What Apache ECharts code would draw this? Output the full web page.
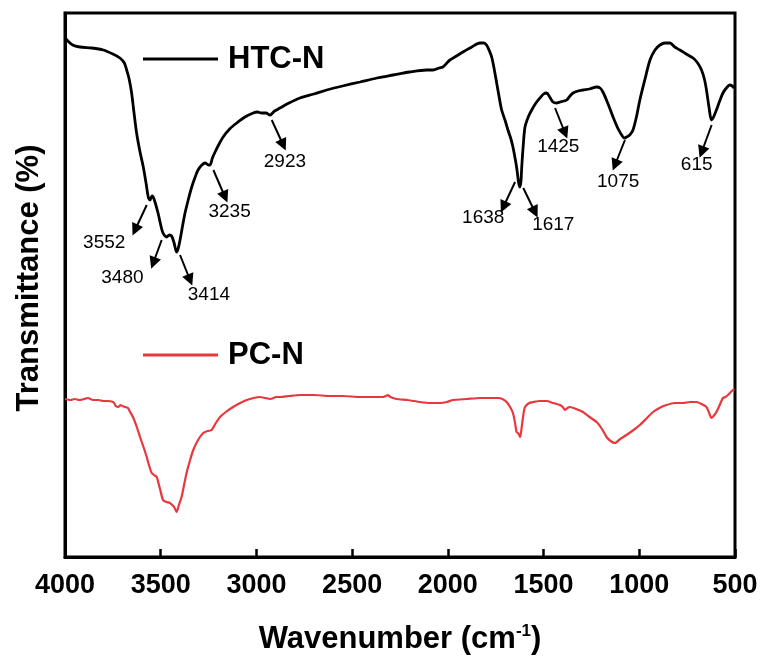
<!DOCTYPE html>
<html>
<head>
<meta charset="utf-8">
<script src="https://cdn.jsdelivr.net/npm/echarts@6/dist/echarts.min.js"></script>
<style>html,body{margin:0;padding:0;background:#fff}#chart{width:762px;height:659px}</style>
</head>
<body>
<div id="chart"></div>
<script>
// x ticks
var xTicks = [4000, 3500, 3000, 2500, 2000, 1500, 1000, 500];
// HTC-N spectrum [wavenumber, transmittance (a.u.)]
var htcN = [
[3995,518],[3960,512],[3922,510],[3860,509],[3800,507],[3750,503],[3713,499],[3690,494],[3678,487],[3665,478],[3652,464],
[3640,445],[3626,424],[3608,405],[3591,390],[3575,372],[3565,360],[3556,357],[3545,361],[3535,358],[3514,344],
[3500,332],[3488,324],[3469,320],[3455,322],[3443,321],[3430,314],[3417,305],[3408,309],[3399,317],[3385,332],[3373,344],
[3355,358],[3338,370],[3320,380],[3305,387],[3285,392],[3268,394],[3250,392],[3242,392],[3230,399],[3216,405],
[3195,413],[3174,420],[3140,428],[3103,434],[3060,440],[3017,444],[2995,445],[2973,444],[2950,444],[2929,442],
[2905,446],[2877,449],[2830,454],[2772,459],[2700,463],[2633,467],[2550,471],[2459,475],[2370,479],[2286,482],
[2200,485],[2111,487],[2077,487],[2045,489],[2026,490],[2005,494],[1989,497],[1955,501],[1921,505],[1875,510],
[1832,514],[1812,514],[1798,512],[1785,507],[1771,500],[1758,488],[1745,474],[1732,460],[1719,447],[1700,436],
[1686,427],[1672,419],[1660,410],[1650,400],[1641,390],[1633,378],[1628,372],[1623,370],[1618,376],[1614,390],[1606,412],
[1597,430],[1580,440],[1562,447],[1540,454],[1519,459],[1500,463],[1484,464],[1468,460],[1451,455],[1432,454],
[1414,455],[1395,456],[1379,457],[1362,461],[1346,464],[1320,466],[1294,467],[1260,468],[1223,470],[1205,469],
[1190,465],[1165,454],[1137,440],[1110,428],[1085,420],[1075,419],[1067,420],[1050,422],[1033,427],[1015,440],
[997,457],[970,478],[944,497],[918,507],[892,512],[865,514],[840,514],[815,510],[788,507],[755,503],[719,499],
[695,494],[675,487],[660,478],[649,467],[636,450],[623,437],[612,440],[597,447],[580,456],[563,464],[545,469],
[527,472],[515,471],[505,469]
];
// PC-N spectrum
var pcN = [
[4000,158],[3970,157],[3950,158],[3925,157],[3900,158],[3880,159],[3854,157],[3825,157],[3800,156],[3775,156],
[3749,155],[3740,153],[3735,151],[3722,150],[3710,152],[3700,151],[3685,150],[3671,149],[3660,145],[3645,140],
[3625,130],[3608,120],[3590,110],[3573,100],[3560,91],[3547,84],[3535,82],[3521,80],[3505,69],[3488,57],
[3470,55],[3452,54],[3440,52],[3430,50],[3417,45],[3405,52],[3391,60],[3378,72],[3365,84],[3348,96],
[3330,107],[3305,117],[3278,124],[3255,126],[3234,127],[3212,134],[3190,140],[3160,145],[3122,150],[3085,154],
[3051,157],[3015,159],[2981,160],[2955,159],[2929,158],[2910,159],[2900,160],[2877,160],[2830,161],[2772,162],
[2700,162],[2620,161],[2548,161],[2460,160],[2372,160],[2340,160],[2325,161],[2313,162],[2300,160],[2268,158],
[2210,157],[2146,155],[2090,154],[2041,154],[2005,155],[1973,157],[1900,158],[1832,159],[1780,159],[1738,159],
[1715,158],[1693,155],[1675,150],[1660,144],[1650,135],[1641,125],[1635,124],[1630,123],[1623,120],[1618,124],
[1614,130],[1605,143],[1597,150],[1575,154],[1553,155],[1520,156],[1484,156],[1450,154],[1414,152],[1400,150],
[1388,147],[1375,149],[1362,150],[1330,148],[1294,145],[1260,140],[1223,135],[1195,128],[1171,120],[1150,116],
[1127,114],[1100,118],[1067,122],[1030,127],[997,132],[960,139],[928,145],[895,149],[858,152],[815,154],
[771,154],[735,155],[701,155],[675,153],[649,150],[635,144],[623,139],[612,141],[597,145],[580,152],
[563,159],[550,160],[537,162],[522,165],[511,167],[503,168]
];
// peak annotations
var peakLabels = ['3552','3480','3414','3235','2923','1638','1617','1425','1075','615'];
var arrowFrom = [[3573,352],[3495,317],[3399,302],[3225,387],[2920,437],[1649,375],[1606,369],[1440,449],[1075,417],[622,432]];
var arrowTo   = [[3634,327],[3539,294],[3347,277],[3164,360],[2860,412],[1710,350],[1545,345],[1388,424],[1127,392],[674,405]];
var labelAt   = [[3795,314],[3700,279],[3248,262],[3140,345],[2851,395],[1815,339],[1449,332],[1423,410],[1110,375],[700,392]];

var FONT = '"Liberation Sans", Arial, sans-serif';
var chart = echarts.init(document.getElementById('chart'), null, {renderer: 'canvas'});

var arrowData = arrowFrom.map(function (p, i) { return {coords: [p, arrowTo[i]]}; });
var labelData = labelAt.map(function (p, i) { return {name: peakLabels[i], value: p}; });

chart.setOption({
  animation: false,
  backgroundColor: '#fff',
  grid: {left: 65, right: 27, top: 13, bottom: 102, containLabel: false, outerBoundsMode: 'none',
         show: true, borderColor: '#000', borderWidth: 3, backgroundColor: 'transparent'},
  legend: [
    {data: ['HTC-N'], left: 138, top: 36, icon: 'rect', itemWidth: 75, itemHeight: 3,
     textStyle: {fontFamily: FONT, fontWeight: 'bold', fontSize: 31, color: '#000', lineHeight: 36, padding: [0,0,0,5]}},
    {data: ['PC-N'], left: 138, top: 332, icon: 'rect', itemWidth: 75, itemHeight: 3,
     textStyle: {fontFamily: FONT, fontWeight: 'bold', fontSize: 31, color: '#000', lineHeight: 36, padding: [0,0,0,5]}}
  ],
  xAxis: {
    type: 'value', min: 500, max: 4000, interval: 500, inverse: true,
    axisLine: {show: true, lineStyle: {color: '#000', width: 3}},
    axisTick: {show: true, inside: true, length: 8, lineStyle: {color: '#000', width: 2.5}},
    splitLine: {show: false},
    axisLabel: {fontFamily: FONT, fontWeight: 'bold', fontSize: 27, color: '#000', margin: 15,
      formatter: function (v) { return xTicks.indexOf(v) >= 0 ? String(v) : ''; }},
    name: '{a|Wavenumber (cm}{b|-1}{a|)}', nameLocation: 'middle', nameGap: 66,
    nameTextStyle: {rich: {
      a: {fontFamily: FONT, fontWeight: 'bold', fontSize: 31, color: '#000'},
      b: {fontFamily: FONT, fontWeight: 'bold', fontSize: 17, color: '#000', verticalAlign: 'top', padding: [0,0,15,0]}
    }}
  },
  yAxis: {
    type: 'value', min: 0, max: 544,
    axisLine: {show: true, lineStyle: {color: '#000', width: 3}},
    axisTick: {show: false}, axisLabel: {show: false}, splitLine: {show: false},
    name: 'Transmittance (%)', nameLocation: 'middle', nameGap: 20,
    nameTextStyle: {fontFamily: FONT, fontWeight: 'bold', fontSize: 31, color: '#000', padding: [0,0,0,14]}
  },
  series: [
    {name: 'HTC-N', type: 'line', data: htcN, showSymbol: false, smooth: 0.3,
     lineStyle: {color: '#000', width: 2.8}, itemStyle: {color: '#000'}, z: 3},
    {name: 'PC-N', type: 'line', data: pcN, showSymbol: false, smooth: 0.2,
     lineStyle: {color: '#e8383d', width: 2.2}, itemStyle: {color: '#e8383d'}, z: 2},
    {name: 'arrows', type: 'lines', coordinateSystem: 'cartesian2d', data: arrowData,
     symbol: ['none', 'triangle'], symbolSize: [0, 12],
     lineStyle: {color: '#000', width: 2, opacity: 1, curveness: 0}, z: 4},
    {name: 'peaks', type: 'scatter', data: labelData, symbolSize: 0.1, silent: true,
     itemStyle: {color: '#000', opacity: 1},
     label: {show: true, position: [0, 0], align: 'center', verticalAlign: 'middle', formatter: '{b}',
             fontFamily: FONT, fontSize: 19, color: '#000', opacity: 1, textBorderWidth: 0}, z: 5}
  ]
});
</script>
</body>
</html>
